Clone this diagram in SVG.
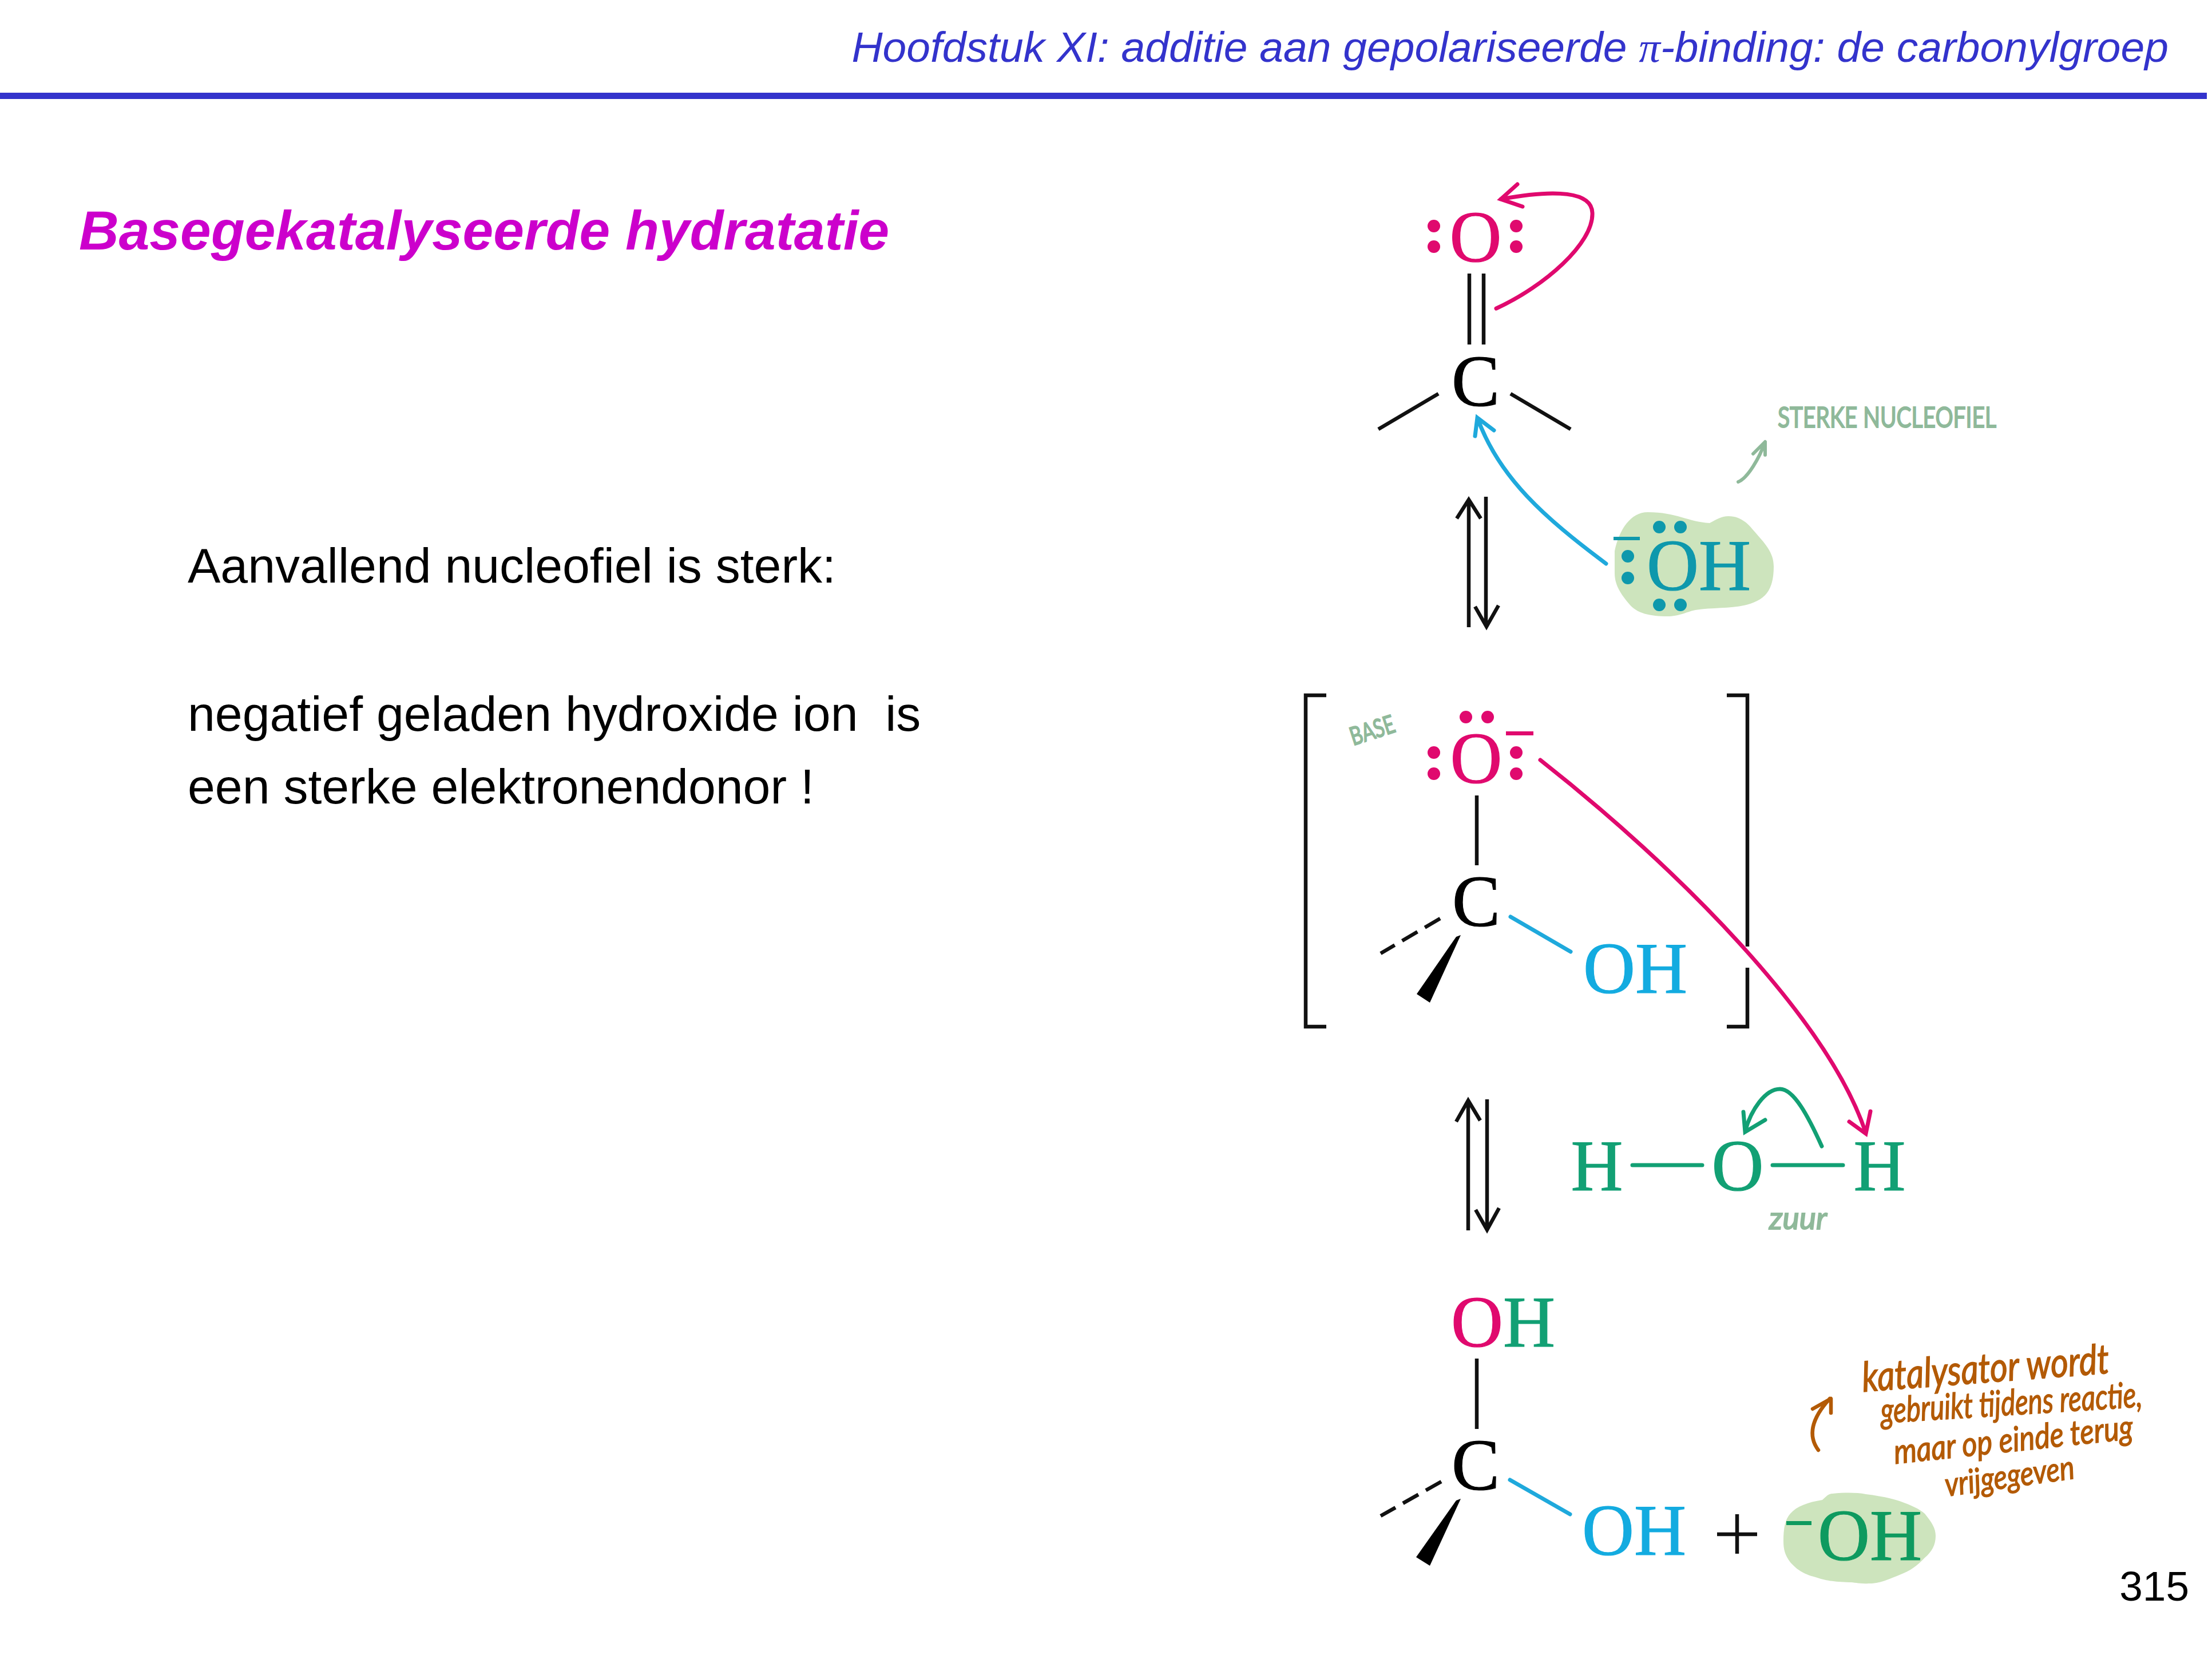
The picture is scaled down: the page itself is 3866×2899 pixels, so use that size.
<svg xmlns="http://www.w3.org/2000/svg" width="3866" height="2899" viewBox="0 0 3866 2899">
<style>
text{font-family:"Liberation Sans",Arial,sans-serif;white-space:pre}
.chem{font-family:"Liberation Serif","Times New Roman",serif;font-size:126px;stroke-width:1.2}
.mid{text-anchor:middle}
.body{font-size:86px;fill:#000}
.k{fill:none;stroke:#111;stroke-width:6.5;stroke-linecap:butt}
.pk{fill:none;stroke:#E0096E;stroke-width:7;stroke-linecap:round}
.bl{fill:none;stroke:#1FA9DC;stroke-width:7;stroke-linecap:round}
.gr{fill:none;stroke:#12A074;stroke-width:7;stroke-linecap:round}
.sg{fill:none;stroke:#8FB99A;stroke-width:6;stroke-linecap:round;stroke-linejoin:round}
.br{fill:none;stroke:#B35A05;stroke-width:6.5;stroke-linecap:round;stroke-linejoin:round}
.blob{fill:#CDE4BD}
.note{font-family:"Lato","Liberation Sans",sans-serif;fill:#8FB99A;stroke:#8FB99A;stroke-width:2}
.hand{font-family:"Lato","Liberation Sans",sans-serif;font-style:italic;fill:#B35A05;stroke:#B35A05;stroke-width:1.5}
.dp{fill:#E0096E}.dt{fill:#0E98AC}
</style>

<g id="header">
<text x="3790" y="108" font-size="75" font-style="italic" fill="#3333CC" text-anchor="end">Hoofdstuk XI: additie aan gepolariseerde <tspan font-family="'Liberation Serif',serif">π</tspan>-binding: de carbonylgroep</text>
<rect x="0" y="162" width="3857" height="11" fill="#3333CC"/>
</g>
<g id="title"><text x="138" y="436" font-size="96.5" font-weight="bold" font-style="italic" fill="#CC00CC">Basegekatalyseerde hydratatie</text></g>
<g id="body">
<text class="body" x="328" y="1018">Aanvallend nucleofiel is sterk:</text>
<text class="body" x="328" y="1277">negatief geladen hydroxide ion  is</text>
<text class="body" x="328" y="1404">een sterke elektronendonor !</text>
</g>
<g id="page-number"><text x="3826" y="2797" font-size="73" text-anchor="end" fill="#000">315</text></g>

<path id="blob-oh-top" class="blob" d="M2822 963C2830 925 2850 895 2880 895C2930 895 2950 912 2988 914C3000 908 3008 902 3021 902C3040 902 3052 912 3063 925C3085 950 3100 965 3100 990C3100 1020 3092 1040 3071 1050C3040 1066 3000 1060 2963 1066C2945 1070 2935 1077 2914 1077C2885 1077 2860 1072 2847 1055C2830 1035 2822 1020 2822 1001Z"/>
<path id="blob-oh-bottom" class="blob" d="M3117 2693C3117 2670 3120 2655 3129 2645C3140 2632 3160 2625 3185 2621C3192 2615 3195 2610 3203 2610C3225 2608 3245 2608 3261 2611C3285 2614 3305 2618 3320 2623C3340 2630 3355 2637 3364 2645C3376 2660 3383 2670 3383 2684C3383 2700 3376 2712 3364 2722C3350 2737 3338 2745 3320 2752C3300 2760 3285 2767 3266 2767C3250 2768 3242 2765 3232 2765C3205 2764 3190 2762 3173 2756C3150 2750 3140 2742 3129 2730C3120 2718 3117 2708 3117 2693Z"/>

<g id="connectors">
<path class="k" d="M2568 478V602M2593 478V602M2514 688L2409 750M2640 688L2745 750"/>
<path class="k" d="M2567 1096V873M2546 906L2567 873L2588 906M2597 868V1093M2578 1060L2598 1095L2619 1058"/>
<path class="k" d="M2566 2150V1925M2545 1960L2566 1923L2587 1958M2599 1921V2147M2579 2114L2599 2149L2620 2111"/>
<path class="k" d="M2581 1390V1512"/>
<path class="k" d="M2517 1605L2413 1666" stroke-dasharray="31 15"/>
<path class="bl" d="M2640 1602L2745 1663" stroke-linecap="butt"/>
<path class="k" d="M2581 2374V2497"/>
<path class="k" d="M2519 2589L2413 2649" stroke-dasharray="31 15"/>
<path class="bl" d="M2639 2586L2744 2646"/>
<path class="pk" d="M2615 539C2700 500 2785 425 2783 372C2782 335 2720 330 2623 348M2652 322L2623 348L2661 361"/>
<path class="bl" d="M2807 985C2700 905 2620 835 2582 730M2611 752L2582 730L2578 762"/>
<path class="pk" d="M2692 1328C2930 1515 3195 1780 3261 1980M3232 1960L3261 1981L3269 1942"/>
<path class="gr" d="M3184 2003C3160 1950 3135 1903 3111 1903C3085 1903 3060 1940 3050 1977M3047 1943L3050 1978L3085 1957"/>
<path class="sg" d="M3038 842C3055 835 3075 800 3085 772M3064 793L3085 772L3085 795"/>
<path class="br" d="M3178 2534C3160 2510 3165 2480 3198 2444M3168 2462L3200 2444L3200 2469"/>
</g>

<g id="carbonyl">
<text class="chem mid" x="2579" y="457" fill="#E0096E" stroke="#E0096E">O</text>
<circle class="dp" cx="2506" cy="395" r="11"/><circle class="dp" cx="2506" cy="431" r="11"/>
<circle class="dp" cx="2650" cy="395" r="11"/><circle class="dp" cx="2650" cy="431" r="11"/>
<text class="chem mid" x="2579" y="709" fill="#000" stroke="#000">C</text>
</g>

<g id="hydroxide-top">
<text class="chem" x="2878" y="1031" fill="#0E98AC" stroke="#0E98AC">OH</text>
<circle class="dt" cx="2900" cy="921" r="11"/><circle class="dt" cx="2937" cy="921" r="11"/>
<circle class="dt" cx="2900" cy="1057" r="11"/><circle class="dt" cx="2937" cy="1057" r="11"/>
<circle class="dt" cx="2845" cy="972" r="11"/><circle class="dt" cx="2845" cy="1010" r="11"/>
<rect class="dt" x="2820" y="938" width="46" height="6"/>
</g>

<g id="intermediate">
<path class="k" d="M2318 1215H2282V1794H2318" stroke-width="7"/>
<path class="k" d="M3018 1215H3054V1654M3054 1691V1794H3018" stroke-width="7"/>
<text class="chem mid" x="2580" y="1368" fill="#E0096E" stroke="#E0096E">O</text>
<circle class="dp" cx="2562" cy="1253" r="11"/><circle class="dp" cx="2600" cy="1253" r="11"/>
<circle class="dp" cx="2506" cy="1315" r="11"/><circle class="dp" cx="2506" cy="1352" r="11"/>
<circle class="dp" cx="2650" cy="1315" r="11"/><circle class="dp" cx="2650" cy="1352" r="11"/>
<rect class="dp" x="2632" y="1278" width="48" height="7"/>
<text class="chem mid" x="2580" y="1618" fill="#000" stroke="#000">C</text>
<path d="M2545 1637L2553 1634L2499 1752L2476 1737Z" fill="#000"/>
<text class="chem" x="2767" y="1735" fill="#13ABE0" stroke="#13ABE0">OH</text>
</g>

<g id="water">
<text class="chem mid" x="2791" y="2080" fill="#12A074" stroke="#12A074" font-size="128">H</text>
<text class="chem mid" x="3037" y="2080" fill="#12A074" stroke="#12A074" font-size="128">O</text>
<text class="chem mid" x="3285" y="2080" fill="#12A074" stroke="#12A074" font-size="128">H</text>
<path class="gr" d="M2853 2036H2975M3098 2036H3221" stroke-linecap="butt"/>
</g>

<g id="product">
<text class="chem" x="2536" y="2353"><tspan fill="#E0096E" stroke="#E0096E">O</tspan><tspan fill="#12A074" stroke="#12A074">H</tspan></text>
<text class="chem mid" x="2579" y="2603" fill="#000" stroke="#000">C</text>
<path d="M2545 2622L2553 2619L2499 2736L2475 2721Z" fill="#000"/>
<text class="chem" x="2765" y="2717" fill="#13ABE0" stroke="#13ABE0">OH</text>
<path class="k" d="M3001 2681H3071M3036 2646V2715"/>
</g>

<g id="hydroxide-bottom">
<text class="chem" x="3177" y="2726" fill="#0E9A5F" stroke="#0E9A5F" font-size="128">OH</text>
<rect x="3122" y="2658" width="44" height="7" fill="#0E9A5F"/>
</g>

<g id="annotations">
<text class="note" x="3107" y="747" font-size="50" textLength="382" lengthAdjust="spacingAndGlyphs">STERKE NUCLEOFIEL</text>
<text class="note" transform="translate(2365 1303) rotate(-18)" font-size="44" textLength="80" lengthAdjust="spacingAndGlyphs">BASE</text>
<text class="note" x="3092" y="2148" font-size="54" font-style="italic" textLength="101" lengthAdjust="spacingAndGlyphs">zuur</text>
<text class="hand" transform="translate(3256 2432) rotate(-4.3)" font-size="72" textLength="433" lengthAdjust="spacingAndGlyphs">katalysator wordt</text>
<text class="hand" transform="translate(3288 2487) rotate(-3.6)" font-size="62" textLength="458" lengthAdjust="spacingAndGlyphs">gebruikt tijdens reactie,</text>
<text class="hand" transform="translate(3312 2558) rotate(-6)" font-size="60" textLength="420" lengthAdjust="spacingAndGlyphs">maar op einde terug</text>
<text class="hand" transform="translate(3402 2615) rotate(-8)" font-size="58" textLength="228" lengthAdjust="spacingAndGlyphs">vrijgegeven</text>
</g>
</svg>
